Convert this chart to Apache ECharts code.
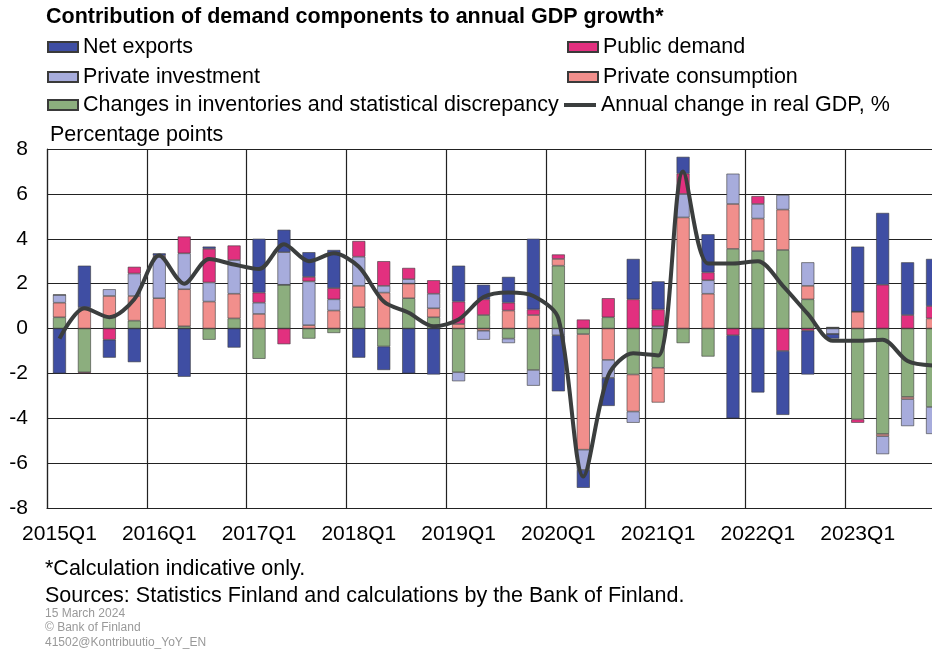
<!DOCTYPE html>
<html>
<head>
<meta charset="utf-8">
<title>Contribution of demand components to annual GDP growth</title>
<script src="https://cdn.jsdelivr.net/npm/echarts@6/dist/echarts.min.js"></script>
<style>
  html, body {
    margin: 0;
    padding: 0;
    background: #ffffff;
    overflow: hidden;
  }
  /* wider than the window: the last quarter is cut off at the right edge, as in the original */
  #main {
    width: 946px;
    height: 649px;
  }
</style>
</head>
<body>
<div id="main"></div>
<script>
// quarters 2015Q1 .. 2023Q4
const quarters = []
for (let y = 2015; y <= 2023; y++) {
  for (let q = 1; q <= 4; q++) {
    quarters.push(y + 'Q' + q)
  }
}

// contributions, percentage points
const inventories = [
  0.5, -1.95, 0.5, 0.35, 0, 0.1, -0.5, 0.45,
  -1.35, 1.95, -0.45, -0.2, 0.95, -0.8, 1.35, 0.5,
  -1.95, 0.6, -0.45, -1.85, 2.8, -0.25, 0.5, -2.05,
  -1.75, -0.65, -1.25, 3.55, 3.45, 3.5, 1.3, 0.05,
  -4.05, -4.7, -3.05, -3.5
]
const privateConsumption = [
  0.65, 0.85, 0.95, 1.1, 1.35, 1.65, 1.2, 1.1,
  0.65, 0, 0.15, 0.8, 0.95, 1.6, 0.65, 0.4,
  0.2, -0.1, 0.8, 0.6, 0.3, -5.15, -1.4, -1.65,
  -1.55, 4.95, 1.55, 2.0, 1.45, 1.8, 0.6, 0,
  0.75, -0.1, -0.1, 0.45
]
const privateInvestment = [
  0.35, 0.1, 0.3, 1.0, 1.85, 1.6, 0.85, 1.5,
  0.5, 1.45, 1.95, 0.5, 1.3, 0.3, 0.2, 0.65,
  -0.4, -0.4, -0.2, -0.7, -0.3, -0.9, -0.8, -0.5,
  0.1, 1.05, 0.6, 1.35, 0.65, 0.65, 1.05, -0.25,
  0, -0.8, -1.2, -1.2
]
const publicDemand = [
  0, -0.05, -0.5, 0.3, 0.05, 0.75, 1.5, 0.65,
  0.45, -0.7, 0.2, 0.5, 0.7, 1.1, 0.5, 0.6,
  1.0, 0.7, 0.35, 0.25, 0.2, 0.4, 0.85, 1.3,
  0.75, 0.9, 0.35, -0.3, 0.35, -1.0, -0.1, 0,
  -0.15, 1.95, 0.6, 0.55
]
const netExports = [
  -2.0, 1.85, -0.8, -1.5, 0.1, -2.15, 0.1, -0.85,
  2.4, 1.0, 1.1, 1.7, -1.3, -1.05, -2.0, -2.05,
  1.6, 0.65, 1.15, 3.15, -2.5, -0.8, -1.25, 1.8,
  1.25, 0.75, 1.7, -3.7, -2.85, -2.85, -1.95, -0.2,
  2.9, 3.2, 2.35, 2.1
]
// annual change in real GDP, %
const gdpChange = [
  -0.45, 0.9, 0.5, 1.3, 3.25, 2.0, 3.1, 2.85,
  2.65, 3.75, 3.0, 3.35, 2.75, 1.2, 0.7, 0.1,
  0.4, 1.4, 1.6, 1.45, 0.45, -6.6, -2.1, -1.1,
  -1.2, 7.0, 2.9, 2.9, 3.0, 1.9, 0.65, -0.55,
  -0.55, -0.5, -1.45, -1.65
]
const yTicks = { min: -8, max: 8, interval: 2 }

const FONT = '"Liberation Sans", Arial, sans-serif'
const TEXT_SIZE = 21.5
const colors = {
  netExports: '#3f4ea3',
  publicDemand: '#e2307f',
  privateInvestment: '#a7acdc',
  privateConsumption: '#f18f8c',
  inventories: '#8cae7e',
  gdp: '#3b3e3e'
}

function barSeries (name, data, color) {
  return {
    name: name,
    type: 'bar',
    stack: 'demand',
    barWidth: 13,
    data: data,
    itemStyle: {
      color: color,
      borderColor: '#3a3a3a',
      borderWidth: 0.6
    }
  }
}

// one legend box per entry, laid out like the original two columns
function legendAt (name, left, centerY, isLine) {
  return {
    data: [{ name: name, icon: 'rect' }],
    left: left,
    top: centerY - 10,
    padding: 0,
    itemWidth: isLine ? 32 : 30,
    itemHeight: isLine ? 4 : 10,
    selectedMode: false,
    textStyle: {
      fontFamily: FONT,
      fontSize: TEXT_SIZE,
      color: '#000'
    }
  }
}

function note (text, left, centerY, size, color) {
  return {
    type: 'text',
    left: left,
    top: centerY - size / 2 + 1,
    style: {
      text: text,
      font: size + 'px ' + FONT,
      fill: color
    }
  }
}

const chart = echarts.init(document.getElementById('main'))

chart.setOption({
  animation: false,
  backgroundColor: '#ffffff',
  title: {
    text: 'Contribution of demand components to annual GDP growth*',
    left: 46,
    top: 6,
    padding: 0,
    textStyle: {
      fontFamily: FONT,
      fontSize: TEXT_SIZE,
      fontWeight: 'bold',
      color: '#000'
    }
  },
  legend: [
    legendAt('Net exports', 47, 46),
    legendAt('Public demand', 567, 46),
    legendAt('Private investment', 47, 76),
    legendAt('Private consumption', 567, 76),
    legendAt('Changes in inventories and statistical discrepancy', 47, 104),
    legendAt('Annual change in real GDP, %', 564, 104, true)
  ],
  grid: {
    left: 47,
    top: 149,
    width: 898,
    height: 359
  },
  xAxis: {
    type: 'category',
    data: quarters,
    boundaryGap: true,
    axisLine: {
      onZero: false,
      lineStyle: { color: '#222', width: 1.2 }
    },
    axisTick: { show: false, interval: 3 },
    axisLabel: {
      interval: 3,
      margin: 16,
      fontFamily: FONT,
      fontSize: 21,
      color: '#000'
    },
    splitLine: {
      show: true,
      interval: 3,
      lineStyle: { color: '#222', width: 1.2 }
    }
  },
  yAxis: {
    type: 'value',
    min: yTicks.min,
    max: yTicks.max,
    interval: yTicks.interval,
    axisLine: {
      show: true,
      lineStyle: { color: '#222', width: 1.2 }
    },
    axisTick: { show: false },
    axisLabel: {
      margin: 19,
      fontFamily: FONT,
      fontSize: 21,
      color: '#000'
    },
    splitLine: {
      lineStyle: { color: '#222', width: 1.2 }
    }
  },
  graphic: [
    note('Percentage points', 50, 134, TEXT_SIZE, '#000'),
    note('*Calculation indicative only.', 45, 568, TEXT_SIZE, '#000'),
    note('Sources: Statistics Finland and calculations by the Bank of Finland.', 45, 595, TEXT_SIZE, '#000'),
    note('15 March 2024', 45, 613, 12, '#999'),
    note('\u00a9 Bank of Finland', 45, 627, 12, '#999'),
    note('41502@Kontribuutio_YoY_EN', 45, 642, 12, '#999')
  ],
  series: [
    barSeries('Changes in inventories and statistical discrepancy', inventories, colors.inventories),
    barSeries('Private consumption', privateConsumption, colors.privateConsumption),
    barSeries('Private investment', privateInvestment, colors.privateInvestment),
    barSeries('Public demand', publicDemand, colors.publicDemand),
    barSeries('Net exports', netExports, colors.netExports),
    {
      name: 'Annual change in real GDP, %',
      type: 'line',
      data: gdpChange,
      symbol: 'none',
      smooth: 0.3,
      z: 5,
      lineStyle: { color: colors.gdp, width: 4 },
      itemStyle: { color: colors.gdp }
    }
  ]
})
</script>
</body>
</html>
